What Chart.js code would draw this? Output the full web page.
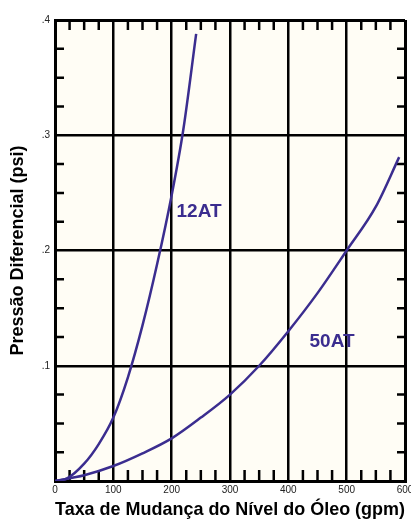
<!DOCTYPE html>
<html>
<head>
<meta charset="utf-8">
<script src="https://cdn.jsdelivr.net/npm/chart.js@4.4.0/dist/chart.umd.min.js"></script>
<style>
    html, body { margin: 0 ; padding: 0 ; background: #ffffff ; }
</style>
</head>
<body>
<canvas id="dpChartCanvas" width="411" height="521"></canvas>
<script>
    // ---------------- Data ---------------------------------------------------
    const flow12AT = [ 0, 20, 50, 75, 100, 125, 150, 175, 200, 220, 242 ] ;
    const dp12AT   = [ 0, .002, .015, .032, .055, .09, .135, .188, .248, .305, .388 ] ;

    const flow50AT = [ 0, 50, 100, 150, 200, 250, 300, 350, 400, 450, 500, 550, 590 ] ;
    const dp50AT   = [ 0, .005, .013, .024, .037, .055, .075, .1, .13, .163, .2, .238, .281 ] ;

    const xTickValues = [ 0, 100, 200, 300, 400, 500, 600 ] ;
    const yTickValues = [ 0, .1, .2, .3, .4 ] ;
    const yTickLabels = [ '', '.1', '.2', '.3', '.4' ] ;

    const curveNames  = [ '12AT', '50AT' ] ;
    const curveNameX  = [ 247, 475 ] ;
    const curveNameY  = [ .234, .121 ] ;

    // ---------------- Constants ----------------------------------------------
    const CURVE_COLOR = '#3b2d8f' ;
    const PLOT_BG     = '#fffdf5' ;
    const FONT        = "'Liberation Sans', Arial, sans-serif" ;

    function toPoints( xs, ys ) {
        var pts = [] ;
        for( var i=0; i<xs.length; i++ ) {
            pts.push( { x: xs[i], y: ys[i] } ) ;
        }
        return pts ;
    }

    // ---------------- Plugins ------------------------------------------------
    const plotBackground = {
        id: 'plotBackground',
        beforeDraw: function( chart ) {
            var a = chart.chartArea ;
            var ctx = chart.ctx ;
            ctx.save() ;
            ctx.fillStyle = PLOT_BG ;
            ctx.fillRect( a.left, a.top, a.right - a.left, a.bottom - a.top ) ;
            ctx.restore() ;
        }
    } ;

    // small inward ticks on all four sides, between the grid lines
    const minorTicks = {
        id: 'minorTicks',
        beforeDatasetsDraw: function( chart ) {
            var a = chart.chartArea ;
            var xs = chart.scales.x ;
            var ys = chart.scales.y ;
            var ctx = chart.ctx ;
            ctx.save() ;
            ctx.strokeStyle = '#000' ;
            ctx.lineWidth = 2.5 ;
            ctx.beginPath() ;
            for( var v=25; v<600; v+=25 ) {
                if( v % 100 == 0 ) continue ;
                var px = xs.getPixelForValue( v ) ;
                ctx.moveTo( px, a.bottom ) ; ctx.lineTo( px, a.bottom - 11 ) ;
                ctx.moveTo( px, a.top ) ;    ctx.lineTo( px, a.top + 10 ) ;
            }
            for( var k=1; k<16; k++ ) {
                if( k % 4 == 0 ) continue ;
                var py = ys.getPixelForValue( k * 0.025 ) ;
                ctx.moveTo( a.left, py ) ;  ctx.lineTo( a.left + 9, py ) ;
                ctx.moveTo( a.right, py ) ; ctx.lineTo( a.right - 8, py ) ;
            }
            ctx.stroke() ;
            ctx.restore() ;
        }
    } ;

    const curveNameLabels = {
        id: 'curveNameLabels',
        afterDatasetsDraw: function( chart ) {
            var ctx = chart.ctx ;
            ctx.save() ;
            ctx.font = 'bold 19px ' + FONT ;
            ctx.fillStyle = CURVE_COLOR ;
            ctx.textAlign = 'center' ;
            ctx.textBaseline = 'middle' ;
            for( var i=0; i<curveNames.length; i++ ) {
                ctx.fillText( curveNames[i],
                              chart.scales.x.getPixelForValue( curveNameX[i] ),
                              chart.scales.y.getPixelForValue( curveNameY[i] ) ) ;
            }
            ctx.restore() ;
        }
    } ;

    // ---------------- Chart --------------------------------------------------
    function curveDataset( name, xs, ys ) {
        return {
            label            : name,
            data             : toPoints( xs, ys ),
            borderColor      : CURVE_COLOR,
            backgroundColor  : CURVE_COLOR,
            borderWidth      : 2.5,
            pointRadius      : 0,
            cubicInterpolationMode : 'monotone',
            fill             : false,
        } ;
    }

    function gridWidth( ctx, edges ) {
        return ( edges.indexOf( ctx.tick.value ) >= 0 ) ? 3 : 2.5 ;
    }

    Chart.defaults.font.family = FONT ;

    new Chart( document.getElementById( 'dpChartCanvas' ), {
        type: 'line',
        data: {
            datasets: [
                curveDataset( '12AT', flow12AT, dp12AT ),
                curveDataset( '50AT', flow50AT, dp50AT ),
            ]
        },
        options: {
            responsive: false,
            animation: false,
            devicePixelRatio: 1,
            layout: { padding: { top: 20, right: 6, left: 0, bottom: 0 } },
            plugins: {
                legend: { display: false },
                tooltip: { enabled: false },
            },
            scales: {
                x: {
                    type: 'linear',
                    min: 0,
                    max: 600,
                    afterBuildTicks: function( scale ) {
                        scale.ticks = xTickValues.map( function( v ) { return { value: v } ; } ) ;
                    },
                    afterFit: function( scale ) {
                        scale.height = 40 ;
                        scale.paddingLeft = 0 ;
                        scale.paddingRight = 0 ;
                    },
                    grid: {
                        color: '#000',
                        lineWidth: function( ctx ) { return gridWidth( ctx, [ 0, 600 ] ) ; },
                        drawTicks: false,
                    },
                    border: { display: true, color: '#000', width: 3 },
                    ticks: {
                        autoSkip: false,
                        maxRotation: 0,
                        padding: 3,
                        color: '#222',
                        font: { size: 10 },
                    },
                    title: {
                        display: true,
                        text: 'Taxa de Mudança do Nível do Óleo (gpm)',
                        color: '#000',
                        font: { size: 18.5, weight: 'bold' },
                        padding: { top: 0, bottom: 0 },
                    }
                },
                y: {
                    type: 'linear',
                    min: 0,
                    max: 0.4,
                    afterBuildTicks: function( scale ) {
                        scale.ticks = yTickValues.map( function( v ) { return { value: v } ; } ) ;
                    },
                    afterFit: function( scale ) {
                        scale.width = 55 ;
                    },
                    grid: {
                        color: '#000',
                        lineWidth: function( ctx ) { return gridWidth( ctx, [ 0, 0.4 ] ) ; },
                        drawTicks: false,
                    },
                    border: { display: true, color: '#000', width: 3 },
                    ticks: {
                        padding: 5,
                        color: '#222',
                        font: { size: 10 },
                        callback: function( value, index ) {
                            return yTickLabels[ index ] ;
                        }
                    },
                    title: {
                        display: true,
                        text: 'Pressão Diferencial (psi)',
                        color: '#000',
                        font: { size: 18, weight: 'bold' },
                        padding: { top: 7, bottom: 0 },
                    }
                }
            }
        },
        plugins: [ plotBackground, minorTicks, curveNameLabels ]
    } ) ;
</script>
</body>
</html>
